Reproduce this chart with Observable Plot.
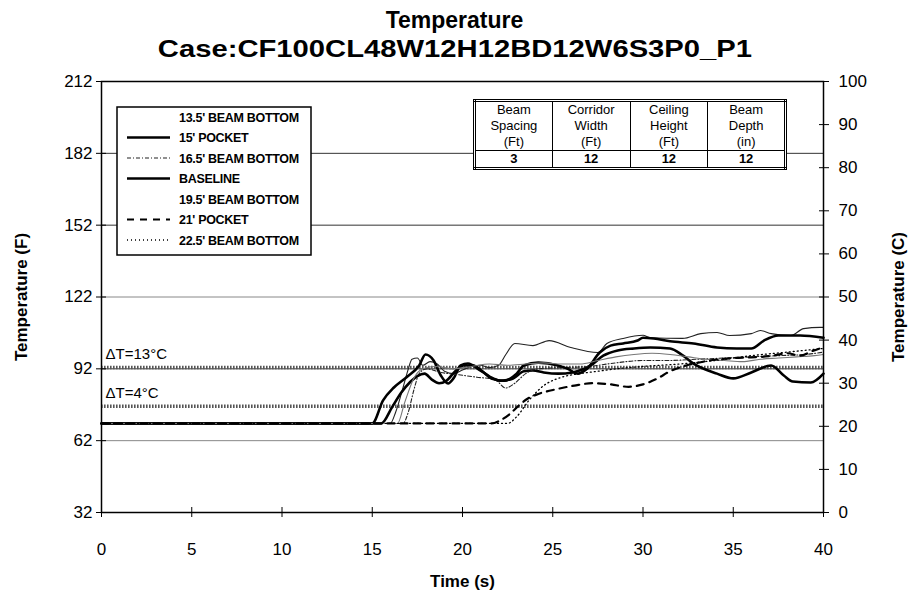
<!DOCTYPE html>
<html><head><meta charset="utf-8">
<script src="https://cdn.jsdelivr.net/npm/d3@7"></script>
<script src="https://cdn.jsdelivr.net/npm/@observablehq/plot@0.6"></script>
<style>
body{margin:0;background:#fff;font-family:"Liberation Sans",Arial,sans-serif;}
#wrap{position:relative;width:909px;height:592px;overflow:hidden;background:#fff}
#title{position:absolute;left:0;top:0;width:909px;text-align:center;font-weight:bold;font-size:23px;line-height:29px;padding-top:6px;color:#000}
#title div{display:block}
#title span{display:inline-block;transform-origin:center}
#title span.wide{transform:scaleX(1.27)}
#chart{position:absolute;left:0;top:65px}
#tbl{position:absolute;left:473px;top:99px;width:314px;border:3px double #000;border-collapse:collapse;background:#fff;font-size:13px;color:#000}
#tbl td{border:1px solid #000;text-align:center;padding:0;line-height:16px}
g[aria-label="y-axis label"] text, g[aria-label="x-axis label"] text{font-weight:bold}
</style></head>
<body><div id="wrap">
<div id="title"><div><span>Temperature</span></div><div><span class="wide">Case:CF100CL48W12H12BD12W6S3P0_P1</span></div></div>
<div id="chart"></div>
</div>
<script>
// ---- data (time s, temperature °F) ----
const beam135 = [[0,69.2],[16,69.2],[16.3,74],[16.7,84],[17,92],[17.2,96],[17.5,96.5],[17.8,93.5],[18.2,95],[18.6,94],[19,91],[19.5,90],[20,91.5],[20.5,93],[21,93.5],[21.5,92.5],[22,93.5],[22.4,98],[22.9,102.6],[23.9,101.7],[24.8,103.8],[26,100.9],[27.5,98.8],[28,102.6],[28.9,104.7],[30,106],[30.4,105],[32.2,104.7],[33.2,106.7],[34.1,107.2],[34.8,105.9],[36,106.7],[36.5,108],[37.1,106.7],[38.2,105.9],[38.9,108.8],[39.8,109.3],[40,109.3]];
const pocket15 = [[0,69.2],[15,69.2],[15.6,78.8],[16.2,84.2],[16.9,88.5],[17.6,93.4],[17.95,98],[18.4,95.5],[18.8,89.2],[19.2,85.9],[19.5,88],[19.9,93.4],[20.3,94.2],[21,91.3],[21.7,88],[22.1,87],[22.8,88],[23.4,91],[23.9,91.3],[24.5,90.5],[25.3,90],[26.1,90.5],[27.1,93.4],[27.8,97.5],[28.6,99.7],[29.5,100.5],[30.4,100.9],[31.5,100.5],[32.2,97.6],[32.8,94.2],[34.1,90],[35,88],[36,90.5],[37.1,93.4],[37.8,89.2],[38.3,86.7],[39.3,86.3],[40,90]];
const beam165 = [[0,69.2],[16.7,69.2],[17,74],[17.3,83],[17.6,90],[18,92],[18.8,90.5],[19.8,89.5],[20.8,88.5],[21.8,87.5],[22.4,84],[22.9,86],[23.5,90],[24.2,92],[25.5,92.5],[27,93],[28.5,94.5],[30,95.5],[31.5,95.5],[33,96],[34.5,96.5],[36,97],[37.5,97.5],[39,98],[40,99]];
const baseline = [[0,69.2],[15.5,69.2],[16.1,76],[16.6,82],[17.1,86.5],[17.5,89],[17.9,90],[18.3,87.5],[18.7,86],[19.1,87],[19.6,91],[20.05,93.4],[20.6,93.4],[21.1,91],[21.6,88],[22.3,87],[23,90],[23.4,93.4],[24.2,94.6],[25.3,93.4],[25.8,92.1],[26.4,90],[26.9,92],[27.6,98.8],[28.2,101.7],[28.9,102.6],[29.7,103.8],[30,105],[30.6,104.7],[31.5,103.5],[32.8,102.6],[34.1,100.9],[35.2,100.5],[36,100.5],[36.7,103.8],[37.5,105.9],[38.7,105.9],[40,105]];
const beam195 = [[0,69.2],[16.4,69.2],[16.8,78],[17.3,88],[17.8,92],[18.5,93],[19.5,92],[20.5,93],[21.5,94],[22.5,93.5],[23.5,94],[24.5,94.5],[25.5,94],[26.5,94],[27.5,95.5],[28.5,97],[29.5,98],[30.5,98.5],[31.5,98],[32.5,97],[33.5,96],[34.5,95.5],[35.5,95],[36.5,96],[37.5,96.5],[38.5,97],[39.5,97.5],[40,98]];
const pocket21 = [[0,69.2],[21.6,69.2],[22.1,70.5],[22.6,73],[23.1,76.5],[23.6,79.5],[24.2,81.5],[25.2,83.5],[26.2,85],[27.2,86],[28.2,85.5],[29.2,84.5],[30,85.5],[30.8,88],[31.5,91],[32.2,93],[33,94.5],[34,95.8],[35,96.5],[36,96.8],[37,97.3],[38,98.5],[38.7,97.5],[39.4,99.5],[40,101]];
const beam225 = [[0,69.2],[22.5,69.2],[23,72],[23.7,79],[24.5,85],[25.5,88.5],[26.5,90],[27.5,91],[28.5,92],[30,93],[32,94],[34,95.5],[36,97.5],[38,99],[40,100.5]];

const seriesNames = ["13.5' BEAM BOTTOM","15' POCKET","16.5' BEAM BOTTOM","BASELINE","19.5' BEAM BOTTOM","21' POCKET","22.5' BEAM BOTTOM"];
const seriesData = [beam135, pocket15, beam165, baseline, beam195, pocket21, beam225];

const ambientF = 69.2;          // initial temperature (°F)
const deltaTC = [13, 4];        // ΔT reference lines (°C)
const xTicks = [0,5,10,15,20,25,30,35,40];
const yTicksF = [32,62,92,122,152,182,212];
const yTicksC = [0,10,20,30,40,50,60,70,80,90,100];
const gridF = [62,92,122,152,182];

const tableHeads = [["Beam","Spacing","(Ft)"],["Corridor","Width","(Ft)"],["Ceiling","Height","(Ft)"],["Beam","Depth","(in)"]];
const tableVals = ["3","12","12","12"];

// ---- styles ----
const styles = [
  {stroke:"#222", strokeWidth:1.1, dash:null, legend:false},
  {stroke:"#000", strokeWidth:2.6, dash:null, legend:true},
  {stroke:"#222", strokeWidth:1.1, dash:"4,2,1,2", legend:true},
  {stroke:"#000", strokeWidth:2.6, dash:null, legend:true},
  {stroke:"#777", strokeWidth:1.1, dash:null, legend:false},
  {stroke:"#000", strokeWidth:2.2, dash:"7,6", legend:true},
  {stroke:"#000", strokeWidth:1.3, dash:"1,3", legend:true}
];

const c2f = c => 32 + 1.8*c;

const lineMarks = seriesData.map((d,i) => Plot.line(d, {
  x: p => p[0], y: p => p[1], curve: "monotone-x",
  stroke: styles[i].stroke, strokeWidth: styles[i].strokeWidth,
  strokeDasharray: styles[i].dash || undefined
}));

const chart = Plot.plot({
  width: 909, height: 527,
  marginLeft: 101, marginRight: 86, marginTop: 16, marginBottom: 80,
  x: {domain: [0, 40]},
  y: {domain: [32, 212]},
  style: {fontFamily: "Liberation Sans, Arial, sans-serif", fontSize: "17px", color: "#000", background: "white", overflow: "visible"},
  marks: [
    Plot.ruleY(gridF, {stroke: d => (d === 122 || d === 62) ? "#888" : "#333", strokeWidth: 1}),
    Plot.ruleY(deltaTC, {y: d => ambientF + 1.8*d, stroke: "#555", strokeWidth: 3.5, strokeDasharray: "1.6,1.4"}),
    Plot.text(deltaTC, {y: d => ambientF + 1.8*d, text: d => `ΔT=${d}°C`, frameAnchor: "left", textAnchor: "start", dx: 4, dy: -13, fontSize: 15, fill: "#000"}),
    ...lineMarks,
    Plot.frame({stroke: "#000", strokeWidth: 1.5}),
    Plot.axisX({ticks: xTicks, tickSize: 5, tickPadding: 25, label: "Time (s)", labelAnchor: "center", labelOffset: 74, labelArrow: "none"}),
    Plot.axisX({ticks: xTicks, tickSize: -5, tickFormat: () => "", label: null}),
    Plot.axisY({anchor: "left", ticks: yTicksF, tickSize: 5, tickPadding: 4, label: "Temperature (F)", labelAnchor: "center", labelOffset: 87, labelArrow: "none"}),
    Plot.axisY({anchor: "left", ticks: yTicksF, tickSize: -5, tickFormat: () => "", label: null}),
    Plot.axisY({anchor: "right", ticks: yTicksC.map(c2f), tickFormat: f => String(Math.round((f-32)/1.8)), tickSize: 5, tickPadding: 10, label: "Temperature (C)", labelAnchor: "center", labelOffset: 80, labelArrow: "none"}),
    Plot.axisY({anchor: "right", ticks: yTicksC.map(c2f), tickSize: -5, tickFormat: () => "", label: null})
  ]
});
document.getElementById("chart").appendChild(chart);

// ---- legend ----
const wrap = d3.select("#wrap");
const leg = wrap.append("svg").attr("width", 197).attr("height", 151)
  .style("position", "absolute").style("left", "116px").style("top", "106px");
leg.append("rect").attr("x", 1).attr("y", 1).attr("width", 194).attr("height", 148)
  .attr("fill", "#fff").attr("stroke", "#000").attr("stroke-width", 1.5);
seriesNames.forEach((name, i) => {
  const y = 11 + 20.5*i;
  const s = styles[i];
  if (s.legend) leg.append("line").attr("x1", 11).attr("x2", 54).attr("y1", y).attr("y2", y)
    .attr("stroke", s.stroke).attr("stroke-width", s.strokeWidth).attr("stroke-dasharray", s.dash);
  leg.append("text").attr("x", 63).attr("y", y).attr("dy", "0.36em")
    .attr("font-family", "Liberation Sans, Arial, sans-serif").attr("font-size", 12.5)
    .attr("font-weight", "bold").attr("letter-spacing", -0.3).text(name);
});

// ---- table ----
const tbl = wrap.append("table").attr("id", "tbl");
const hr = tbl.append("tr");
tableHeads.forEach(h => hr.append("td").style("width", "25%").html(h.join("<br>")));
const vr = tbl.append("tr");
tableVals.forEach(v => vr.append("td").style("font-weight", "bold").text(v));
</script>
</body></html>
